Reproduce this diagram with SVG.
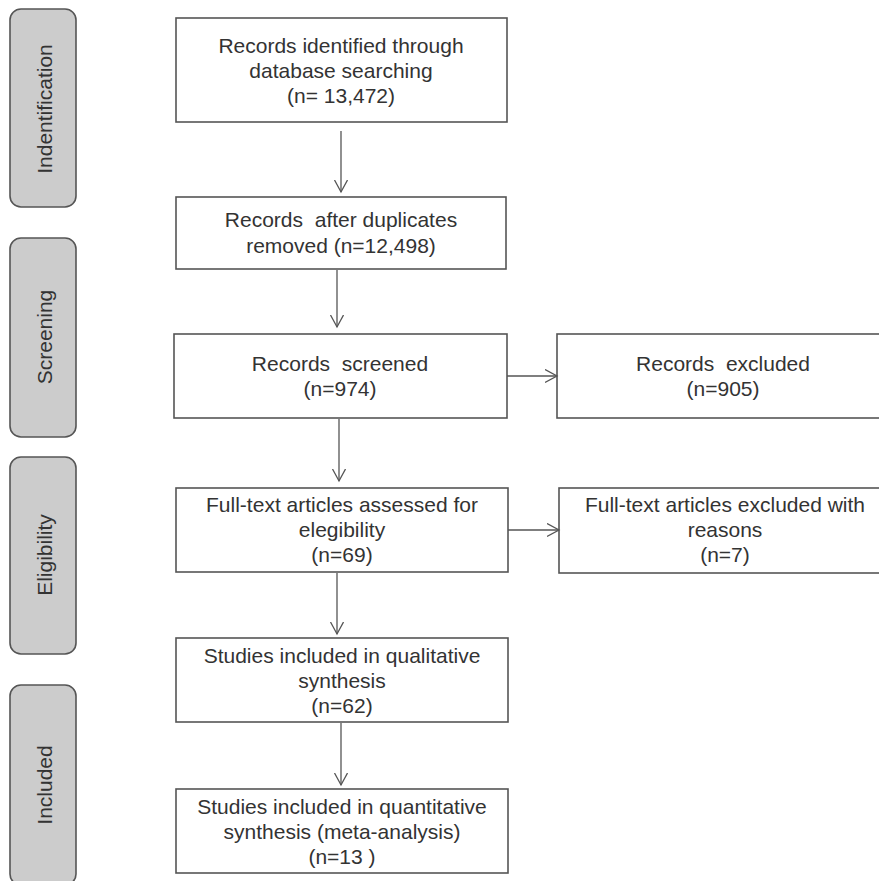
<svg xmlns="http://www.w3.org/2000/svg" width="879" height="881" viewBox="0 0 879 881">
<defs>
<style>
.box{fill:#fff;stroke:#555;stroke-width:1.6}
.side{fill:#cccccc;stroke:#555;stroke-width:1.6}
.t{font-family:"Liberation Sans",Arial,sans-serif;font-size:21px;fill:#333;text-anchor:middle}
.c{stroke:#555;stroke-width:1.3;fill:none}
</style>
<marker id="ah" markerWidth="16" markerHeight="16" refX="12" refY="7" orient="auto" markerUnits="userSpaceOnUse">
<polyline points="0,0.5 12,7 0,13.5" fill="none" stroke="#555" stroke-width="1.3"/>
</marker>
</defs>
<rect width="879" height="881" fill="#fff"/>
<g id="phase-identification">
<rect class="side" x="10" y="9" width="66" height="198" rx="11"/>
<text class="t" transform="translate(52,109) rotate(-90)">Indentification</text>
</g>
<g id="phase-screening">
<rect class="side" x="10" y="238" width="66" height="199" rx="11"/>
<text class="t" transform="translate(52,337) rotate(-90)">Screening</text>
</g>
<g id="phase-eligibility">
<rect class="side" x="10" y="457" width="66" height="197" rx="11"/>
<text class="t" transform="translate(52,555) rotate(-90)">Eligibility</text>
</g>
<g id="phase-included">
<rect class="side" x="10" y="685" width="66" height="200" rx="11"/>
<text class="t" transform="translate(52,785) rotate(-90)">Included</text>
</g>
<g id="n-identified">
<rect class="box" x="176" y="18" width="331" height="104"/>
<text class="t" x="341" y="53">Records identified through</text>
<text class="t" x="341" y="78">database searching</text>
<text class="t" x="341" y="103">(n= 13,472)</text>
</g>
<g id="n-dedup">
<rect class="box" x="176" y="197" width="330" height="72"/>
<text class="t" x="341" y="227" xml:space="preserve">Records  after duplicates</text>
<text class="t" x="341" y="253">removed (n=12,498)</text>
</g>
<g id="n-screened">
<rect class="box" x="174" y="334" width="333" height="84"/>
<text class="t" x="340" y="371" xml:space="preserve">Records  screened</text>
<text class="t" x="340" y="396">(n=974)</text>
</g>
<g id="n-excluded">
<rect class="box" x="557" y="334" width="330" height="84"/>
<text class="t" x="723" y="371" xml:space="preserve">Records  excluded</text>
<text class="t" x="723" y="396">(n=905)</text>
</g>
<g id="n-fulltext">
<rect class="box" x="176" y="488" width="332" height="84"/>
<text class="t" x="342" y="512">Full-text articles assessed for</text>
<text class="t" x="342" y="537">elegibility</text>
<text class="t" x="342" y="562">(n=69)</text>
</g>
<g id="n-ft-excluded">
<rect class="box" x="559" y="488" width="330" height="85"/>
<text class="t" x="725" y="512">Full-text articles excluded with</text>
<text class="t" x="725" y="537">reasons</text>
<text class="t" x="725" y="562">(n=7)</text>
</g>
<g id="n-qualitative">
<rect class="box" x="176" y="638" width="332" height="84"/>
<text class="t" x="342" y="663">Studies included in qualitative</text>
<text class="t" x="342" y="688">synthesis</text>
<text class="t" x="342" y="713">(n=62)</text>
</g>
<g id="n-quantitative">
<rect class="box" x="176" y="789" width="332" height="84"/>
<text class="t" x="342" y="814">Studies included in quantitative</text>
<text class="t" x="342" y="839">synthesis (meta-analysis)</text>
<text class="t" x="342" y="864" xml:space="preserve">(n=13 )</text>
</g>
<g id="connectors">
<line class="c" x1="341" y1="131" x2="341" y2="192" marker-end="url(#ah)"/>
<line class="c" x1="337" y1="270" x2="337" y2="327" marker-end="url(#ah)"/>
<line class="c" x1="339" y1="419" x2="339" y2="481" marker-end="url(#ah)"/>
<line class="c" x1="507" y1="376" x2="557" y2="376" marker-end="url(#ah)"/>
<line class="c" x1="508" y1="530" x2="559" y2="530" marker-end="url(#ah)"/>
<line class="c" x1="337" y1="573" x2="337" y2="634" marker-end="url(#ah)"/>
<line class="c" x1="341" y1="723" x2="341" y2="785" marker-end="url(#ah)"/>
</g>
</svg>
